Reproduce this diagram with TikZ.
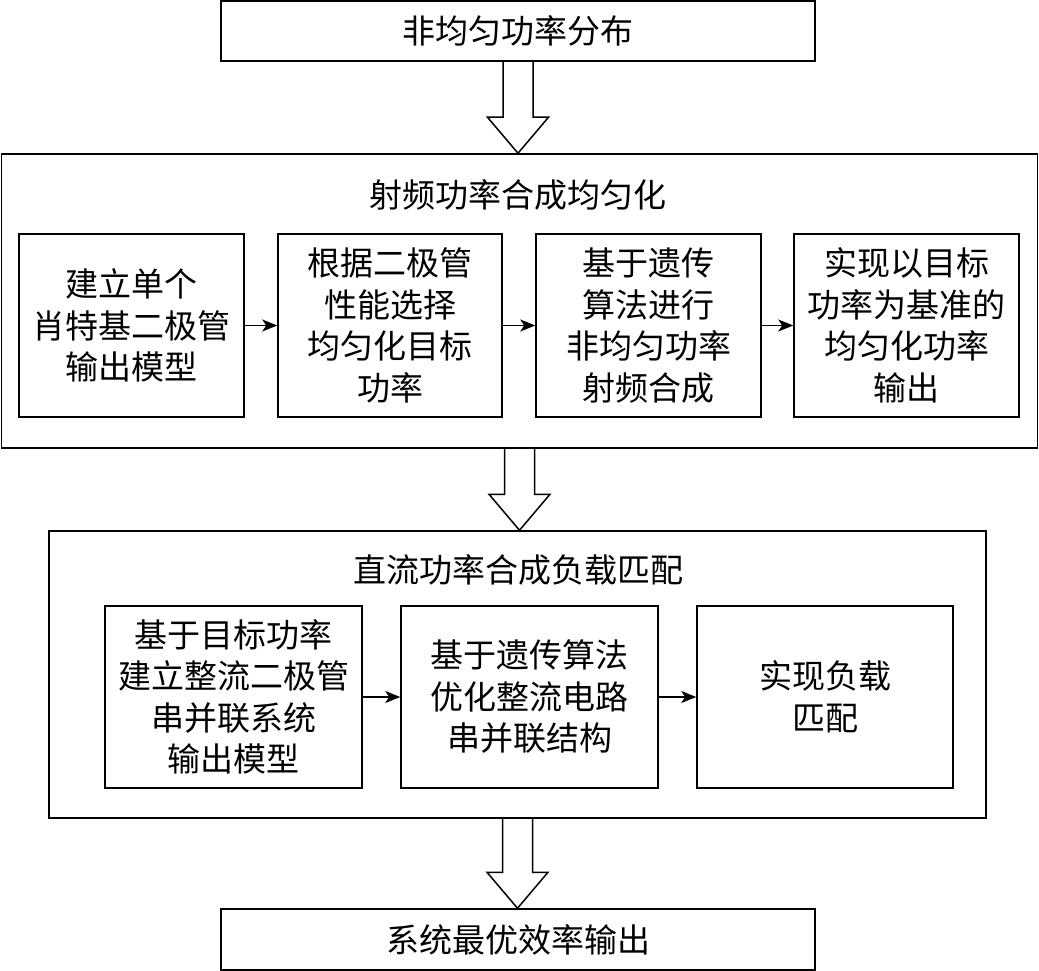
\documentclass[tikz,border=0pt]{standalone}
\usepackage{fontspec}
\newfontfamily\cjk{Noto Sans CJK SC}
\usetikzlibrary{calc,arrows.meta}
\tikzset{
  txt/.style={font=\cjk\fontsize{33}{41.5}\selectfont, align=center, inner sep=0pt},
  boxbase/.style={draw, line width=1.5pt, txt},
  bigbox/.style={boxbase, minimum width=594pt, minimum height=60pt},
  innerbox/.style={boxbase, minimum height=183pt},
  outerbox/.style={draw, line width=1.5pt, inner sep=0pt},
  arr/.style={line width=1.5pt, -{Stealth[length=15pt,width=12pt,inset=4pt]}},
  fat/.style={line width=1.5pt, line join=miter}
}
\newcommand\mybigarrow[2]{%
  \draw[fat] ($(#1.south)+(-15,0)$) -- ($(#1.south |- #2.north)+(-15,-36)$) -- ++(-15.5,0)
     -- (#1.south |- #2.north) -- ++(30.5,-36) -- ++(-15.5,0) -- ($(#1.south)+(15,0)$);}
\begin{document}
\begin{tikzpicture}[x=1pt,y=-1pt]
\useasboundingbox (0,0) rectangle (1039,971);
% top
\node[bigbox] (T) at (518,31) {非均匀功率分布};
% RF group
\node[outerbox, minimum width=1036pt, minimum height=294pt] (R) at (519.5,301) {};
\node[txt] (RT) at (518,195) {射频功率合成均匀化};
\node[innerbox, minimum width=225pt] (A) at (131.5,325.5) {建立单个\\肖特基二极管\\输出模型};
\node[innerbox, minimum width=224pt] (B) at (390,325.5) {根据二极管\\性能选择\\均匀化目标\\功率};
\node[innerbox, minimum width=225pt] (C) at (648.5,325.5) {基于遗传\\算法进行\\非均匀功率\\射频合成};
\node[innerbox, minimum width=225pt] (D) at (906.5,325.5) {实现以目标\\功率为基准的\\均匀化功率\\输出};
\draw[arr] (A) -- (B);
\draw[arr] (B) -- (C);
\draw[arr] (C) -- (D);
% DC group
\node[outerbox, minimum width=937pt, minimum height=287pt] (G2) at (517.5,674.5) {};
\node[txt] (GT) at (518,570) {直流功率合成负载匹配};
\node[innerbox, minimum width=257pt, minimum height=182pt] (E) at (233.5,697) {基于目标功率\\建立整流二极管\\串并联系统\\输出模型};
\node[innerbox, minimum width=257pt, minimum height=182pt] (F) at (529.5,697) {基于遗传算法\\优化整流电路\\串并联结构};
\node[innerbox, minimum width=256pt, minimum height=182pt] (H) at (825,697) {实现负载\\匹配};
\draw[arr] (E) -- (F);
\draw[arr] (F) -- (H);
% bottom
\node[bigbox, minimum height=61pt] (O) at (518,939.5) {系统最优效率输出};
% block arrows
\mybigarrow{T}{R}
\mybigarrow{R}{G2}
\mybigarrow{G2}{O}
\end{tikzpicture}
\end{document}
